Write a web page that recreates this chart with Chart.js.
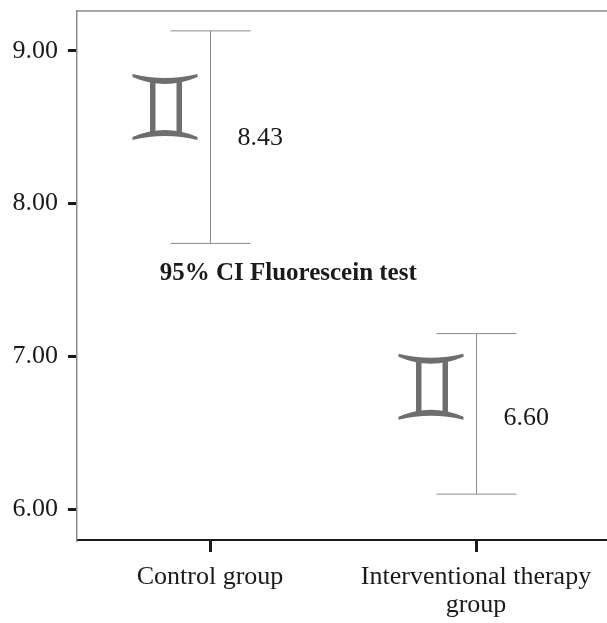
<!DOCTYPE html>
<html>
<head>
<meta charset="utf-8">
<script src="https://cdn.jsdelivr.net/npm/chart.js@4.4.0/dist/chart.umd.min.js"></script>
<style>
  html, body { margin: 0; padding: 0; background: #fff; overflow: hidden; }
  #wrap { width: 610px; height: 623px; }
</style>
</head>
<body>
<div id="wrap"><canvas id="ciChart"></canvas></div>
<script>
// 95% CI Fluorescein test - error bar chart

const groups = ['Control group', ['Interventional therapy', 'group']];
const means = [8.43, 6.60];
const ciUpper = [9.13, 7.15];
const ciLower = [7.74, 6.10];
const yTicks = [6, 7, 8, 9];
const chartTitle = '95% CI Fluorescein test';

const FONT = '"Liberation Serif", "Times New Roman", serif';

// draw the "mean" glyph (the twin bars symbol), bottom-right anchored
function drawGlyph(ctx, right, bottom) {
    const w = 65, h = 66;
    const x0 = right - w, y0 = bottom - h;
    ctx.save();
    ctx.translate(x0, y0);
    ctx.fillStyle = '#6e6e6e';
    // top bar
    ctx.beginPath();
    ctx.moveTo(0, 0);
    ctx.quadraticCurveTo(32.5, 8, 65, 0);
    ctx.lineTo(65, 3);
    ctx.quadraticCurveTo(32.5, 17, 0, 3);
    ctx.closePath();
    ctx.fill();
    // bottom bar
    ctx.beginPath();
    ctx.moveTo(0, 66);
    ctx.quadraticCurveTo(32.5, 58, 65, 66);
    ctx.lineTo(65, 63);
    ctx.quadraticCurveTo(32.5, 49, 0, 63);
    ctx.closePath();
    ctx.fill();
    // stems
    ctx.fillRect(17.5, 6, 5.5, 54);
    ctx.fillRect(44, 6, 5.5, 54);
    ctx.restore();
}

const errorBarPlugin = {
    id: 'errorBars',
    afterDatasetsDraw(chart) {
        const { ctx, chartArea, scales: { x, y } } = chart;
        ctx.save();

        // top border of the frame
        ctx.strokeStyle = '#8a8a8a';
        ctx.lineWidth = 1.5;
        ctx.beginPath();
        ctx.moveTo(chartArea.left, chartArea.top);
        ctx.lineTo(chartArea.right, chartArea.top);
        ctx.stroke();

        means.forEach((m, i) => {
            const px = Math.round(x.getPixelForValue(i)) + 0.5;
            const top = y.getPixelForValue(ciUpper[i]);
            const bot = y.getPixelForValue(ciLower[i]);
            const mid = y.getPixelForValue(m);

            ctx.strokeStyle = '#8c8c8c';
            ctx.lineWidth = 1;
            ctx.beginPath();
            ctx.moveTo(px, top);
            ctx.lineTo(px, bot);
            ctx.moveTo(px - 40, top);
            ctx.lineTo(px + 40, top);
            ctx.moveTo(px - 40, bot);
            ctx.lineTo(px + 40, bot);
            ctx.stroke();

            drawGlyph(ctx, px - 13, mid + 2);

            ctx.fillStyle = '#1a1a1a';
            ctx.font = '26px ' + FONT;
            ctx.textAlign = 'left';
            ctx.textBaseline = 'middle';
            ctx.fillText(m.toFixed(2), px + 27, mid);
        });

        // title sits inside the plot area
        ctx.font = 'bold 25px ' + FONT;
        ctx.textAlign = 'center';
        ctx.textBaseline = 'middle';
        ctx.fillStyle = '#1a1a1a';
        ctx.fillText(chartTitle, chartArea.left + chartArea.width * 0.397, y.getPixelForValue(7.54));

        ctx.restore();
    }
};

new Chart(document.getElementById('ciChart'), {
    type: 'line',
    data: {
        labels: groups,
        datasets: [{
            data: means,
            showLine: false,
            pointRadius: 0
        }]
    },
    options: {
        responsive: true,
        maintainAspectRatio: false,
        animation: false,
        layout: { padding: { top: 11, right: 1, left: 0, bottom: 0 } },
        plugins: {
            legend: { display: false },
            tooltip: { enabled: false }
        },
        scales: {
            x: {
                type: 'category',
                offset: true,
                grid: {
                    offset: false,
                    drawOnChartArea: false,
                    drawTicks: true,
                    tickLength: 12,
                    tickColor: '#1a1a1a',
                    lineWidth: 3
                },
                border: { color: '#1a1a1a', width: 2 },
                ticks: {
                    color: '#1a1a1a',
                    font: { family: FONT, size: 26, lineHeight: 1.05 },
                    padding: 12,
                    maxRotation: 0,
                    autoSkip: false
                },
                afterFit(scale) {
                    scale.height = 83;
                    scale.paddingLeft = 0;
                    scale.paddingRight = 0;
                }
            },
            y: {
                min: 5.8,
                max: 9.26,
                grid: {
                    drawOnChartArea: false,
                    drawTicks: true,
                    tickLength: 9,
                    tickColor: '#1a1a1a',
                    lineWidth: 3
                },
                border: { color: '#8a8a8a', width: 1.5 },
                ticks: {
                    color: '#1a1a1a',
                    font: { family: FONT, size: 26 },
                    padding: 10,
                    callback: v => v.toFixed(2)
                },
                afterBuildTicks(scale) {
                    scale.ticks = yTicks.map(v => ({ value: v }));
                },
                afterFit(scale) {
                    scale.width = 77;
                    scale.paddingTop = 0;
                    scale.paddingBottom = 0;
                }
            }
        }
    },
    plugins: [errorBarPlugin]
});
</script>
</body>
</html>
